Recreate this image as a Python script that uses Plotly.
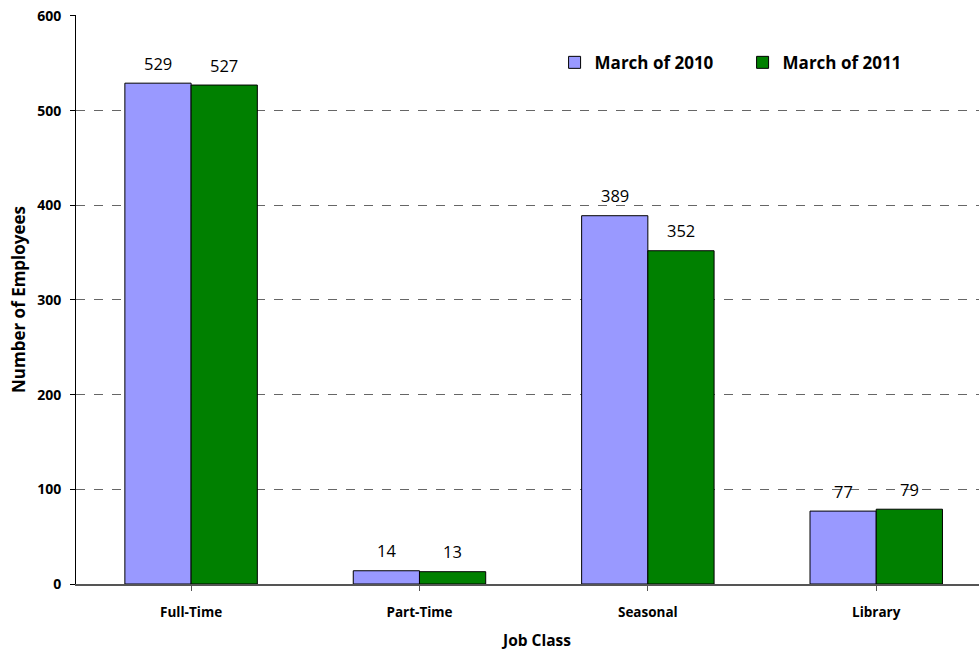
import plotly.graph_objects as go

categories = ["Full-Time", "Part-Time", "Seasonal", "Library"]
series_names = ["March of 2010", "March of 2011"]
values_2010 = [529, 14, 389, 77]
values_2011 = [527, 13, 352, 79]
y_ticks = [0, 100, 200, 300, 400, 500, 600]
x_title = "Job Class"
y_title = "Number of Employees"

colors = ["#9999FF", "#008000"]
FONT = "Open Sans, Noto Sans, sans-serif"

fig = go.Figure()
for name, vals, col in zip(series_names, [values_2010, values_2011], colors):
    fig.add_trace(go.Bar(
        x=list(range(len(categories))), y=vals, name=name,
        marker=dict(color=col, line=dict(color="#000000", width=1)),
    ))

# value labels above bars
bar_px = 66
for si, vals in enumerate([values_2010, values_2011]):
    shift = -bar_px / 2 if si == 0 else bar_px / 2
    for i, v in enumerate(vals):
        fig.add_annotation(x=i, y=v, text=str(v), showarrow=False,
                           xshift=shift, yshift=20, yanchor="middle",
                           font=dict(size=16.5, color="#000000", family=FONT))

# x-axis title
fig.add_annotation(x=0.509, y=0, xref="paper", yref="paper", text=x_title,
                   showarrow=False, yshift=-56, yanchor="middle", borderpad=0,
                   font=dict(size=15.5, family=FONT, weight="bold", color="#000000"))

fig.update_layout(
    width=979, height=650,
    margin=dict(l=76, r=0, t=15, b=66),
    paper_bgcolor="white", plot_bgcolor="white",
    barmode="group", bargap=0.42, bargroupgap=0,
    font=dict(family=FONT, color="#000000"),
    legend=dict(orientation="h", x=0.53, y=0.916, xanchor="left", yanchor="middle",
                font=dict(size=17, family=FONT, color="#000000", weight="bold"),
                entrywidth=143, itemwidth=30, bgcolor="rgba(0,0,0,0)"),
    xaxis=dict(
        range=[-0.504, 3.45],
        tickmode="array", tickvals=list(range(len(categories))), ticktext=categories,
        tickfont=dict(size=13.5, family=FONT, weight="bold"),
        tickson="boundaries", ticks="outside", ticklen=5, tickcolor="#555555",
        ticklabelstandoff=10, automargin=False,
        showline=True, linecolor="#555555", linewidth=1.5,
        showgrid=False, zeroline=False,
    ),
    yaxis=dict(
        range=[0, 601], tickvals=y_ticks,
        tickfont=dict(size=14, family=FONT, weight="bold"),
        ticks="outside", ticklen=5, tickcolor="#000000", ticklabelstandoff=6,
        showline=True, linecolor="#000000", linewidth=1,
        showgrid=True, gridcolor="#666666", griddash="dash", gridwidth=1,
        zeroline=False,
        title=dict(text=y_title, font=dict(size=17, family=FONT, weight="bold"), standoff=7),
    ),
)

fig.write_html("out.html", config={"displayModeBar": False},
               post_script="document.body.style.margin='0';")
